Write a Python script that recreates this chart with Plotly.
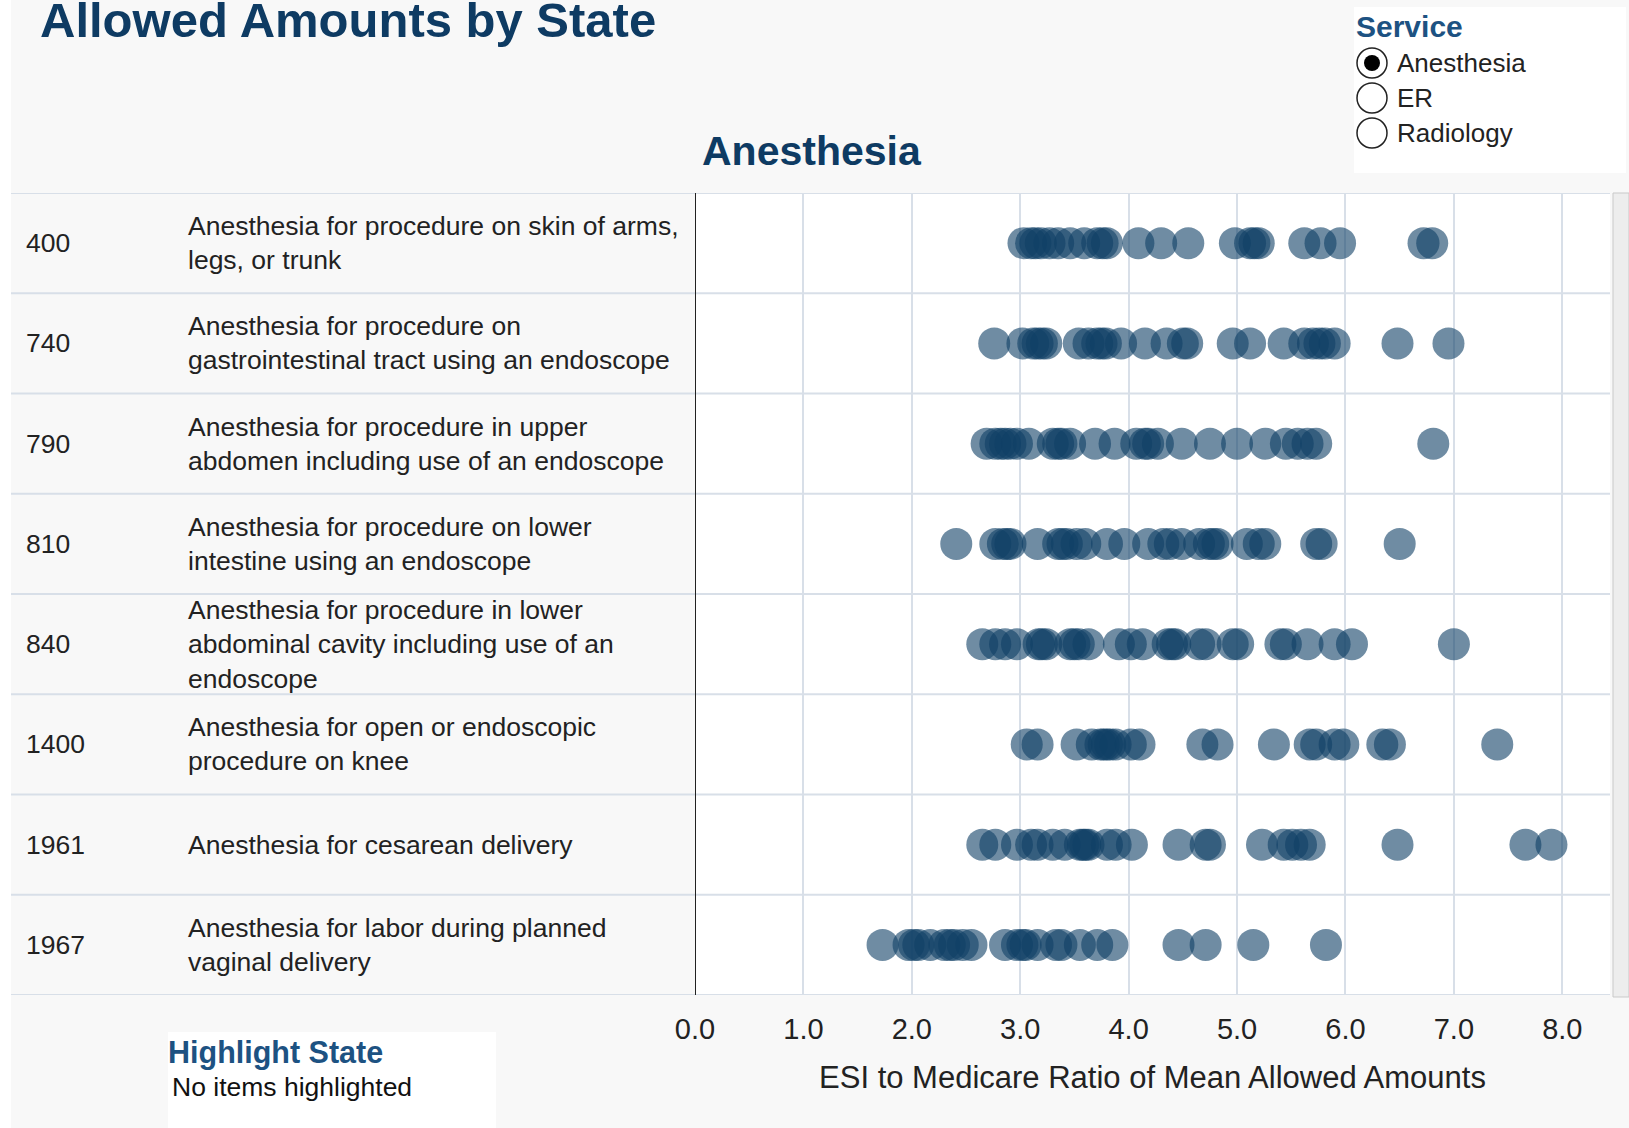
import plotly.graph_objects as go

W, H = 1629, 1128

# ---------------------------------------------------------------------------
# data
# ---------------------------------------------------------------------------
service = "Anesthesia"
services = ["Anesthesia", "ER", "Radiology"]

codes = ["400", "740", "790", "810", "840", "1400", "1961", "1967"]

descriptions = [
    "Anesthesia for procedure on skin of arms,<br>legs, or trunk",
    "Anesthesia for procedure on<br>gastrointestinal tract using an endoscope",
    "Anesthesia for procedure in upper<br>abdomen including use of an endoscope",
    "Anesthesia for procedure on lower<br>intestine using an endoscope",
    "Anesthesia for procedure in lower<br>abdominal cavity including use of an<br>endoscope",
    "Anesthesia for open or endoscopic<br>procedure on knee",
    "Anesthesia for cesarean delivery",
    "Anesthesia for labor during planned<br>vaginal delivery",
]

ratio_400 = [3.03, 3.1, 3.14, 3.19, 3.27, 3.35, 3.46, 3.59, 3.71, 3.76, 3.8,
             4.09, 4.3, 4.55, 4.98, 5.12, 5.16, 5.2, 5.62, 5.77, 5.95, 6.72, 6.8]
ratio_740 = [2.76, 3.02, 3.12, 3.16, 3.2, 3.24, 3.54, 3.63, 3.71, 3.75, 3.79,
             3.93, 4.15, 4.35, 4.5, 4.54, 4.96, 5.12, 5.43, 5.62, 5.7, 5.76,
             5.81, 5.9, 6.48, 6.95]
ratio_790 = [2.69, 2.77, 2.82, 2.86, 2.91, 2.97, 3.08, 3.3, 3.35, 3.38, 3.46,
             3.69, 3.87, 4.07, 4.15, 4.18, 4.27, 4.49, 4.75, 5.0, 5.26, 5.45,
             5.56, 5.65, 5.73, 6.81]
ratio_810 = [2.41, 2.77, 2.84, 2.88, 2.91, 3.16, 3.35, 3.39, 3.43, 3.52, 3.6,
             3.8, 3.96, 4.18, 4.32, 4.38, 4.49, 4.65, 4.74, 4.78, 4.82, 5.09,
             5.2, 5.26, 5.73, 5.78, 6.5]
ratio_840 = [2.65, 2.77, 2.86, 2.97, 3.17, 3.2, 3.24, 3.46, 3.5, 3.54, 3.63,
             3.91, 4.02, 4.13, 4.36, 4.4, 4.43, 4.65, 4.71, 4.96, 5.01, 5.4,
             5.45, 5.65, 5.9, 6.06, 7.0]
ratio_1400 = [3.06, 3.16, 3.52, 3.66, 3.74, 3.77, 3.8, 3.83, 3.88, 4.02, 4.1,
              4.68, 4.82, 5.34, 5.67, 5.73, 5.9, 5.98, 6.34, 6.41, 7.4]
ratio_1961 = [2.65, 2.77, 2.97, 3.1, 3.16, 3.3, 3.41, 3.55, 3.58, 3.6, 3.63,
              3.8, 3.88, 4.03, 4.46, 4.71, 4.75, 5.23, 5.43, 5.51, 5.59, 5.67,
              6.48, 7.66, 7.9]
ratio_1967 = [1.73, 1.97, 2.02, 2.06, 2.17, 2.3, 2.35, 2.39, 2.47, 2.55, 2.86,
              2.97, 3.02, 3.05, 3.16, 3.33, 3.38, 3.55, 3.71, 3.85, 4.46, 4.71,
              5.15, 5.82]

ratios = [ratio_400, ratio_740, ratio_790, ratio_810,
          ratio_840, ratio_1400, ratio_1961, ratio_1967]

tick_vals = [0, 1, 2, 3, 4, 5, 6, 7, 8]
tick_text = ["0.0", "1.0", "2.0", "3.0", "4.0", "5.0", "6.0", "7.0", "8.0"]

# ---------------------------------------------------------------------------
# style
# ---------------------------------------------------------------------------
FONT = "Liberation Sans, Arial, Helvetica, sans-serif"
NAVY = "#0e3b63"
BLUE = "#1d5282"
DOT = "#0f3f66"
GRID = "#d8dfe8"
BG = "#f8f8f8"

# plot area in pixels
PL, PR, PT, PB = 695, 1610, 193, 995


def fx(px):
    return px / W


def fy(py):
    return 1 - py / H


fig = go.Figure()

for i, vals in enumerate(ratios):
    fig.add_trace(go.Scatter(
        x=vals,
        y=[i] * len(vals),
        mode="markers",
        marker=dict(size=32, color=DOT, opacity=0.6, line=dict(width=0)),
        name=codes[i],
        hovertemplate="%{x:.2f}<extra>" + codes[i] + "</extra>",
        showlegend=False,
    ))

shapes = []
annotations = []

# white left strip and scrollbar on the right
shapes.append(dict(type="rect", xref="paper", yref="paper",
                   x0=0, x1=fx(11), y0=0, y1=1,
                   fillcolor="white", line=dict(width=0), layer="below"))
shapes.append(dict(type="rect", xref="paper", yref="paper",
                   x0=fx(1613), x1=1, y0=fy(PB + 2), y1=fy(PT),
                   fillcolor="#ededed", line=dict(color="#c9c9c9", width=1)))

# row separators across table and plot
for k in range(len(codes) + 1):
    shapes.append(dict(type="line", xref="paper", yref="y",
                       x0=fx(11), x1=fx(PR), y0=k - 0.5, y1=k - 0.5,
                       line=dict(color=GRID, width=2)))

# axis line at zero
shapes.append(dict(type="line", xref="x", yref="y",
                   x0=0, x1=0, y0=-0.5, y1=len(codes) - 0.5,
                   line=dict(color="#222222", width=2)))

# table text
for i, (code, desc) in enumerate(zip(codes, descriptions)):
    annotations.append(dict(x=fx(24), y=i, xref="paper", yref="y",
                            text=code, showarrow=False, xanchor="left",
                            yanchor="middle",
                            font=dict(family=FONT, size=26.5, color="#222222")))
    annotations.append(dict(x=fx(186), y=i, xref="paper", yref="y",
                            text=desc, showarrow=False, xanchor="left",
                            yanchor="middle", align="left",
                            font=dict(family=FONT, size=26.5, color="#222222")))

# titles
annotations.append(dict(x=fx(38), y=fy(20), xref="paper", yref="paper",
                        text="<b>Allowed Amounts by State</b>", showarrow=False,
                        xanchor="left", yanchor="middle",
                        font=dict(family=FONT, size=49, color=NAVY)))
annotations.append(dict(x=fx(812), y=fy(151), xref="paper", yref="paper",
                        text="<b>" + service + "</b>", showarrow=False,
                        xanchor="center", yanchor="middle",
                        font=dict(family=FONT, size=41, color=NAVY)))

# service selector box
shapes.append(dict(type="rect", xref="paper", yref="paper",
                   x0=fx(1354), x1=fx(1626), y0=fy(173), y1=fy(7),
                   fillcolor="white", line=dict(width=0), layer="below"))
annotations.append(dict(x=fx(1354), y=fy(27), xref="paper", yref="paper",
                        text="<b>Service</b>", showarrow=False,
                        xanchor="left", yanchor="middle",
                        font=dict(family=FONT, size=30, color=BLUE)))
for j, s in enumerate(services):
    cy = 63 + j * 35
    cx = 1372
    r = 15
    shapes.append(dict(type="circle", xref="paper", yref="paper",
                       x0=fx(cx - r), x1=fx(cx + r), y0=fy(cy + r), y1=fy(cy - r),
                       fillcolor="white", line=dict(color="#222222", width=1.5)))
    if s == service:
        ri = 8
        shapes.append(dict(type="circle", xref="paper", yref="paper",
                           x0=fx(cx - ri), x1=fx(cx + ri),
                           y0=fy(cy + ri), y1=fy(cy - ri),
                           fillcolor="black", line=dict(width=0)))
    annotations.append(dict(x=fx(1395), y=fy(cy), xref="paper", yref="paper",
                            text=s, showarrow=False, xanchor="left",
                            yanchor="middle",
                            font=dict(family=FONT, size=26, color="#222222")))

# highlight box
shapes.append(dict(type="rect", xref="paper", yref="paper",
                   x0=fx(168), x1=fx(496), y0=0, y1=fy(1032),
                   fillcolor="white", line=dict(width=0), layer="below"))
annotations.append(dict(x=fx(166), y=fy(1052), xref="paper", yref="paper",
                        text="<b>Highlight State</b>", showarrow=False,
                        xanchor="left", yanchor="middle",
                        font=dict(family=FONT, size=30.5, color=BLUE)))
annotations.append(dict(x=fx(170), y=fy(1087), xref="paper", yref="paper",
                        text="No items highlighted", showarrow=False,
                        xanchor="left", yanchor="middle",
                        font=dict(family=FONT, size=26.5, color="#111111")))

fig.update_layout(
    width=W,
    height=H,
    margin=dict(l=0, r=0, t=0, b=0, autoexpand=False),
    paper_bgcolor=BG,
    plot_bgcolor="white",
    shapes=shapes,
    annotations=annotations,
    hovermode="closest",
    xaxis=dict(
        domain=[fx(PL), fx(PR)],
        range=[0, 8.44],
        tickvals=tick_vals,
        ticktext=tick_text,
        showgrid=True,
        gridcolor=GRID,
        gridwidth=1.5,
        zeroline=False,
        showline=False,
        automargin=False,
        ticks="outside",
        ticklen=8,
        tickcolor="rgba(0,0,0,0)",
        tickfont=dict(family=FONT, size=29, color="#222222"),
        title=dict(text="ESI to Medicare Ratio of Mean Allowed Amounts",
                   font=dict(family=FONT, size=31, color="#222222"),
                   standoff=22),
        fixedrange=True,
    ),
    yaxis=dict(
        domain=[fy(PB), fy(PT)],
        range=[len(codes) - 0.5, -0.5],
        showgrid=False,
        zeroline=False,
        showticklabels=False,
        automargin=False,
        fixedrange=True,
    ),
)

# page body margin would shift the figure by 8px
fig.write_html("out.html",
               config={"displayModeBar": False},
               post_script="document.body.style.margin = '0';")
